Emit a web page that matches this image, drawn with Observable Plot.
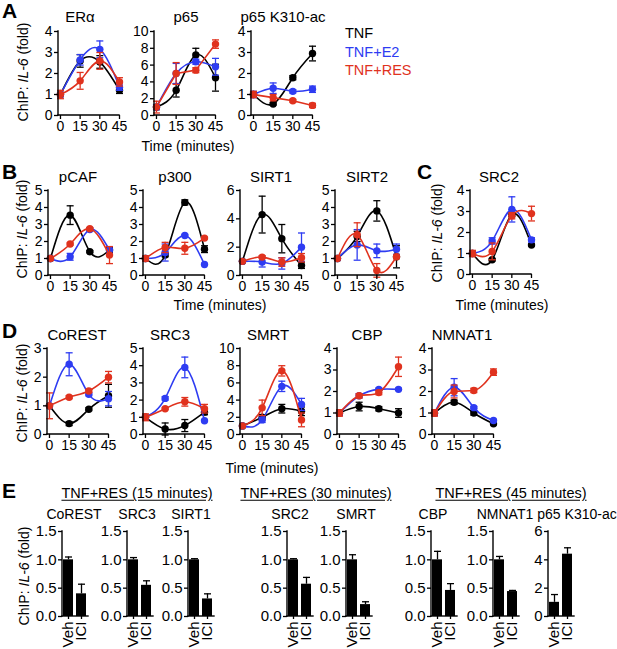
<!DOCTYPE html>
<html><head><meta charset="utf-8">
<script src="https://cdn.jsdelivr.net/npm/d3@7"></script>
<script src="https://cdn.jsdelivr.net/npm/@observablehq/plot@0.6"></script>
<style>
body{margin:0;background:#fff;font-family:"Liberation Sans",Arial,Helvetica,sans-serif;}
#fig{position:relative;width:617px;height:649px;overflow:hidden;background:#fff;}
.t{position:absolute;white-space:nowrap;transform:translate(-50%,-50%);line-height:1;color:#000;}
.L{position:absolute;font-size:21px;font-weight:bold;line-height:1;}
.yl{position:absolute;font-size:14px;white-space:nowrap;transform:translate(-50%,-50%) rotate(-90deg);line-height:1;}
.lg{position:absolute;font-size:14.5px;line-height:1;white-space:nowrap;transform:translateY(-50%);}
svg{position:absolute;overflow:visible;}
</style></head><body><div id="fig"></div>
<script>
// ---------- data ----------
const times = [0, 15, 30, 45];
const seriesNames = ["TNF", "TNF+E2", "TNF+RES"];
const seriesColors = ["#000000", "#2e3cf2", "#e0321e"];

// Panel A (rows: TNF, TNF+E2, TNF+RES)
const eraMean = [[1.0, 2.6, 2.55, 1.2], [1.0, 2.65, 3.15, 1.35], [1.0, 1.65, 2.6, 1.6]];
const eraSem  = [[0.1, 0.3, 0.3, 0.15], [0.1, 0.25, 0.4, 0.15], [0.2, 0.4, 0.4, 0.2]];
const p65Mean = [[1.0, 3.0, 7.2, 4.5], [1.0, 5.0, 6.4, 5.8], [1.0, 5.0, 5.4, 8.5]];
const p65Sem  = [[0.3, 0.8, 0.8, 1.6], [0.3, 1.2, 0.3, 1.0], [0.7, 1.3, 0.3, 0.5]];
const k310Mean = [[1.0, 0.55, 1.8, 2.95], [1.0, 1.3, 1.15, 1.25], [1.0, 0.85, 0.7, 0.48]];
const k310Sem  = [[0.1, 0.05, 0.1, 0.35], [0.15, 0.25, 0.08, 0.15], [0.15, 0.15, 0.06, 0.1]];
// Panel B
const pcafMean = [[1.0, 3.55, 1.4, 1.5], [1.0, 1.1, 2.7, 1.5], [1.0, 1.85, 2.75, 1.2]];
const pcafSem  = [[0.05, 0.55, 0.06, 0.15], [0.05, 0.2, 0.1, 0.2], [0.1, 0.06, 0.06, 0.5]];
const p300Mean = [[1.0, 1.2, 4.3, 1.55], [1.0, 1.35, 2.35, 0.65], [1.0, 1.65, 1.6, 2.2]];
const p300Sem  = [[0.05, 0.1, 0.15, 0.2], [0.05, 0.5, 0.05, 0.05], [0.15, 0.3, 0.35, 0.05]];
const sirt1Mean = [[1.0, 4.3, 2.6, 0.7], [1.0, 0.95, 0.85, 2.0], [1.0, 1.3, 0.95, 1.25]];
const sirt1Sem  = [[0.05, 1.3, 1.0, 0.2], [0.05, 0.35, 0.4, 1.0], [0.05, 0.1, 0.3, 0.3]];
const sirt2Mean = [[1.0, 2.3, 3.8, 1.1], [1.0, 1.8, 1.45, 1.55], [1.0, 2.4, 0.3, 1.1]];
const sirt2Sem  = [[0.05, 0.3, 0.6, 0.65], [0.05, 0.9, 0.4, 0.3], [0.05, 0.7, 0.4, 0.1]];
// Panel C
const src2Mean = [[1.0, 0.7, 2.85, 1.4], [1.0, 1.6, 3.1, 1.65], [1.0, 1.1, 2.8, 2.9]];
const src2Sem  = [[0.05, 0.05, 0.1, 0.05], [0.1, 0.15, 0.6, 0.1], [0.15, 0.4, 0.15, 0.35]];
// Panel D
const corestMean = [[1.0, 0.38, 0.88, 1.35], [1.0, 2.45, 1.4, 1.25], [1.0, 1.3, 1.52, 2.0]];
const corestSem  = [[0.05, 0.07, 0.05, 0.4], [0.05, 0.4, 0.05, 0.25], [0.45, 0.05, 0.05, 0.2]];
const src3Mean = [[1.0, 0.32, 0.52, 1.3], [1.0, 2.1, 3.9, 0.8], [1.0, 1.5, 1.9, 1.5]];
const src3Sem  = [[0.1, 0.35, 0.35, 0.15], [0.1, 0.1, 0.6, 0.05], [0.2, 0.05, 0.25, 0.25]];
const smrtMean = [[1.0, 2.0, 3.0, 2.7], [1.0, 1.7, 5.6, 3.5], [1.0, 3.1, 7.4, 1.7]];
const smrtSem  = [[0.1, 0.3, 0.5, 0.5], [0.1, 0.3, 0.6, 0.7], [0.1, 0.9, 0.6, 0.8]];
const cbpMean = [[1.0, 1.3, 1.2, 1.0], [1.0, 1.8, 2.1, 2.1], [1.0, 1.8, 1.95, 3.15]];
const cbpSem  = [[0.1, 0.2, 0.1, 0.2], [0.1, 0.1, 0.05, 0.05], [0.15, 0.1, 0.1, 0.45]];
const nmnatMean = [[1.0, 1.5, 1.0, 0.5], [1.0, 2.2, 1.25, 0.65], [1.0, 2.0, 2.05, 2.9]];
const nmnatSem  = [[0.1, 0.1, 0.1, 0.05], [0.1, 0.4, 0.05, 0.05], [0.15, 0.3, 0.1, 0.15]];
// Panel E
const barGroups = ["Veh", "ICI"];
const barTargets = ["CoREST", "SRC3", "SIRT1", "SRC2", "SMRT", "CBP", "NMNAT1", "p65 K310-ac"];
const barMean = [[1.0, 0.40], [1.0, 0.55], [1.0, 0.31], [1.0, 0.57], [1.0, 0.21], [1.0, 0.46], [1.0, 0.44], [1.0, 4.4]];
const barSem  = [[0.05, 0.17], [0.04, 0.08], [0.02, 0.09], [0.02, 0.12], [0.09, 0.05], [0.15, 0.12], [0.06, 0.02], [0.55, 0.45]];
const barHeaders = ["TNF+RES (15 minutes)", "TNF+RES (30 minutes)", "TNF+RES (45 minutes)"];

// ---------- helpers ----------
const fig = document.getElementById("fig");
const FONT = '"Liberation Sans", Arial, Helvetica, sans-serif';
function place(node, left, top) { node.style.position = "absolute"; node.style.left = left + "px"; node.style.top = top + "px"; fig.appendChild(node); }
function txt(html, x, y, size, cls = "t", color = "#000") {
  const d = document.createElement("div"); d.className = cls; d.innerHTML = html;
  d.style.left = x + "px"; d.style.top = y + "px"; d.style.color = color;
  if (size) d.style.fontSize = size + "px";
  fig.appendChild(d); return d;
}
const cap = {draw(ctx) { ctx.moveTo(-3.5, 0); ctx.lineTo(3.5, 0); }};
const capBar = {draw(ctx) { ctx.moveTo(-3.5, 0); ctx.lineTo(3.5, 0); }};
function axisLines(index, scales, values, dims) {
  const g = d3.create("svg:g").attr("stroke", "black").attr("stroke-width", 1.4).attr("fill", "none").attr("stroke-linecap", "square");
  const x0 = dims.marginLeft, x1 = dims.width - dims.marginRight, y0 = dims.marginTop, y1 = dims.height - dims.marginBottom;
  g.append("line").attr("x1", x0).attr("x2", x0).attr("y1", y0).attr("y2", y1);
  g.append("line").attr("x1", x0).attr("x2", x1).attr("y1", y1).attr("y2", y1);
  return g.node();
}
const fInt = d3.format("d");

function linePlot(mean, sem, ymax, yticks, axisX, top, bottom, curves) {
  const W = 61, H = bottom - top, mL = 30, mR = 12, mT = 10, mB = 24;
  const rows = [];
  mean.forEach((s, i) => s.forEach((v, j) => rows.push({s: i, t: times[j], v, lo: v - sem[i][j], hi: v + sem[i][j]})));
  const marks = [];
  [0, 1, 2].forEach(i => {
    const r = rows.filter(d => d.s === i);
    const c = seriesColors[i];
    marks.push(Plot.ruleX(r, {x: "t", y1: "lo", y2: "hi", stroke: c, strokeWidth: 1.3}));
    marks.push(Plot.dot(r, {x: "t", y: "hi", symbol: cap, stroke: c, strokeWidth: 1.3, r: 3}));
    marks.push(Plot.dot(r, {x: "t", y: "lo", symbol: cap, stroke: c, strokeWidth: 1.3, r: 3}));
    marks.push(Plot.line(r, {x: "t", y: "v", stroke: c, strokeWidth: 1.6, curve: (curves && curves[i]) || "natural"}));
    marks.push(Plot.dot(r, {x: "t", y: "v", fill: c, r: 3.7}));
  });
  marks.push(Plot.axisX({ticks: times, tickFormat: fInt, tickSize: 4, tickPadding: 2, strokeWidth: 1.3, label: null}));
  marks.push(Plot.axisY({ticks: yticks, tickFormat: fInt, tickSize: 4, tickPadding: 2, strokeWidth: 1.3, label: null}));
  marks.push(axisLines);
  const p = Plot.plot({
    width: mL + W + mR, height: mT + H + mB,
    marginLeft: mL, marginRight: mR, marginTop: mT, marginBottom: mB,
    style: {fontSize: "14px", fontFamily: FONT, overflow: "visible", background: "transparent", color: "#000"},
    x: {domain: [-1.5, 45]},
    y: {domain: [0, ymax]},
    marks
  });
  place(p, axisX - mL, top - mT);
}

function barPlot(k, axisX, ymax, yticks, fmt) {
  const W = 26, top = 531, H = 85, mL = 34, mR = 6, mT = 10, mB = 40;
  const rows = barGroups.map((g, i) => ({g, v: barMean[k][i], hi: barMean[k][i] + barSem[k][i]}));
  const p = Plot.plot({
    width: mL + W + mR, height: mT + H + mB,
    marginLeft: mL, marginRight: mR, marginTop: mT, marginBottom: mB,
    style: {fontSize: "15px", fontFamily: FONT, overflow: "visible", background: "transparent", color: "#000"},
    x: {domain: barGroups, paddingInner: 0.2, paddingOuter: 0.1},
    y: {domain: [0, ymax]},
    marks: [
      Plot.ruleX(rows, {x: "g", y1: "v", y2: "hi", stroke: "black", strokeWidth: 1.3}),
      Plot.dot(rows, {x: "g", y: "hi", symbol: capBar, stroke: "black", strokeWidth: 1.3, r: 3}),
      Plot.barY(rows, {x: "g", y: "v", fill: "black"}),
      Plot.axisX({tickRotate: -90, tickSize: 3, tickPadding: 2, strokeWidth: 1.3, label: null}),
      Plot.axisY({ticks: yticks, tickFormat: fmt, tickSize: 4, tickPadding: 2, strokeWidth: 1.3, label: null}),
      axisLines
    ]
  });
  place(p, axisX - mL, top - mT);
}

// ---------- panel A ----------
linePlot(eraMean, eraSem, 4, [0, 1, 2, 3, 4], 58, 31, 115);
linePlot(p65Mean, p65Sem, 10, [0, 2, 4, 6, 8, 10], 154, 31, 115, [null, null, "linear"]);
linePlot(k310Mean, k310Sem, 4, [0, 1, 2, 3, 4], 251, 31, 115, [null, null, "linear"]);
// ---------- panel B ----------
linePlot(pcafMean, pcafSem, 5, [0, 1, 2, 3, 4, 5], 48, 190, 275);
linePlot(p300Mean, p300Sem, 5, [0, 1, 2, 3, 4, 5], 143, 190, 275);
linePlot(sirt1Mean, sirt1Sem, 6, [0, 2, 4, 6], 240, 190, 275);
linePlot(sirt2Mean, sirt2Sem, 5, [0, 1, 2, 3, 4, 5], 335, 190, 275);
// ---------- panel C ----------
linePlot(src2Mean, src2Sem, 4, [0, 1, 2, 3, 4], 470, 190, 274);
// ---------- panel D ----------
linePlot(corestMean, corestSem, 3, [0, 1, 2, 3], 47, 348, 434);
linePlot(src3Mean, src3Sem, 5, [0, 1, 2, 3, 4, 5], 143, 348, 434);
linePlot(smrtMean, smrtSem, 10, [0, 2, 4, 6, 8, 10], 240, 348, 434);
linePlot(cbpMean, cbpSem, 4, [0, 1, 2, 3, 4], 337, 348, 434);
linePlot(nmnatMean, nmnatSem, 4, [0, 1, 2, 3, 4], 432, 348, 434, [null, null, "monotone-x"]);
// ---------- panel E ----------
const f1 = d3.format(".1f");
const barAxes = [62, 127, 188, 287, 346, 431, 493, 548];
barAxes.forEach((ax, k) => {
  if (k === 7) barPlot(k, ax, 6, [0, 2, 4, 6], fInt);
  else barPlot(k, ax, 1.5, [0, 0.5, 1.0, 1.5], f1);
});

// ---------- text ----------
[["A", 2, 0], ["B", 2, 161], ["C", 417, 161], ["D", 2, 320], ["E", 2, 480]].forEach(([s, x, y]) => {
  const d = document.createElement("div"); d.className = "L"; d.textContent = s;
  d.style.left = x + "px"; d.style.top = y + "px"; fig.appendChild(d);
});
[["ERα", 80, 15.5], ["p65", 186, 15.5], ["p65 K310-ac", 283, 15.5],
 ["pCAF", 78, 176], ["p300", 175, 176], ["SIRT1", 271, 176], ["SIRT2", 367, 176], ["SRC2", 499, 176],
 ["CoREST", 77, 334], ["SRC3", 170, 334], ["SMRT", 268, 334], ["CBP", 367, 334], ["NMNAT1", 462, 334]
].forEach(([s, x, y]) => txt(s, x, y, 15));
[[188, 146], [220, 305], [502, 305], [272, 468]].forEach(([x, y]) => txt("Time (minutes)", x, y, 14));
const ylab = 'ChIP: <i>IL-6</i> (fold)';
[[23, 72], [22, 229], [437, 233], [22, 393], [24, 576]].forEach(([x, y]) => txt(ylab, x, y, null, "yl"));
seriesNames.forEach((s, i) => txt(s, 345, [33, 52, 70][i], null, "lg", seriesColors[i]));
[[137, 493], [316, 493], [511, 493]].forEach(([x, y], i) => {
  const d = txt(barHeaders[i], x, y, 14.5); d.style.textDecoration = "underline"; d.style.textUnderlineOffset = "2px";
});
const subX = [74, 137, 191, 290, 356, 433, 505, 577];
barTargets.forEach((s, i) => txt(s, subX[i], 514, 14));
</script></body></html>
